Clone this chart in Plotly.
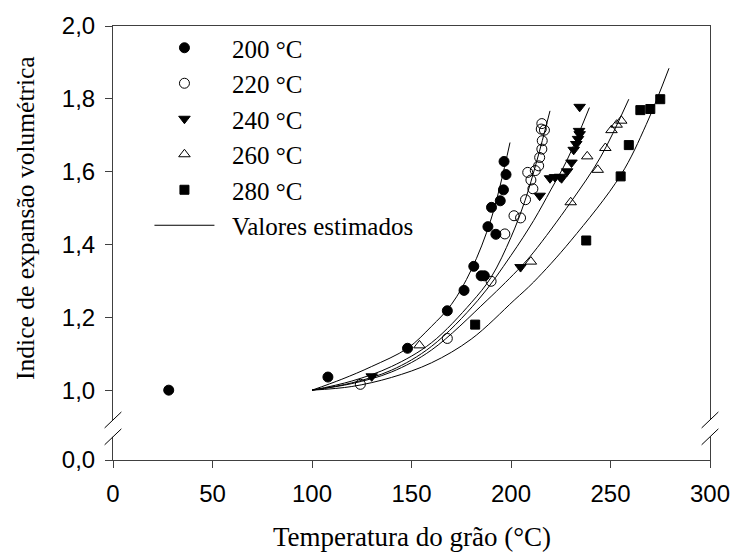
import plotly.graph_objects as go

t200 = [28, 108, 148, 168, 176.4, 181.3, 185, 186.6, 188.4, 190.2, 192.4, 194.6, 196.2, 197.5, 196.5]
i200 = [1.0, 1.036, 1.115, 1.218, 1.274, 1.340, 1.314, 1.314, 1.449, 1.502, 1.428, 1.520, 1.550, 1.592, 1.628]

t220 = [124.3, 168, 190, 196.9, 201.5, 204.8, 207.3, 208.4, 210, 211, 212.2, 213.9, 214.4, 215.5, 215.7, 215.2, 216.8, 215.5]
i220 = [1.016, 1.142, 1.299, 1.429, 1.479, 1.473, 1.523, 1.598, 1.577, 1.553, 1.603, 1.616, 1.639, 1.662, 1.685, 1.717, 1.714, 1.732]

t240 = [130, 204.8, 214.4, 219.6, 222.1, 224.6, 225.4, 228.2, 230.4, 231.5, 232.8, 233.7, 234.5, 234.2, 234.5]
i240 = [1.038, 1.338, 1.534, 1.582, 1.585, 1.586, 1.582, 1.601, 1.625, 1.660, 1.676, 1.690, 1.703, 1.712, 1.778]

t260 = [154, 210, 230, 238.3, 243.6, 247.4, 250.5, 253.1, 255.4]
i260 = [1.123, 1.353, 1.516, 1.642, 1.605, 1.665, 1.714, 1.729, 1.740]

t280 = [182, 237.8, 255.1, 259.2, 265, 270, 275]
i280 = [1.18, 1.411, 1.587, 1.673, 1.769, 1.772, 1.799]

# ---- estimated curves ----
c200_t = [100, 115, 130, 148, 160, 170, 180, 190, 199.5]
c200_i = [1.0, 1.03, 1.065, 1.115, 1.175, 1.235, 1.33, 1.47, 1.68]
c220_t = [100, 120, 140, 160, 180, 190, 200, 207, 213, 219.6]
c220_i = [1.0, 1.025, 1.065, 1.13, 1.24, 1.31, 1.42, 1.52, 1.63, 1.767]
c240_t = [100, 120, 140, 160, 183.4, 200, 211.4, 220, 228, 239.4]
c240_i = [1.0, 1.02, 1.055, 1.12, 1.247, 1.37, 1.466, 1.55, 1.63, 1.776]
c260_t = [100, 120, 140, 160, 188, 204.8, 211.4, 230, 245, 259.2]
c260_i = [1.0, 1.018, 1.05, 1.11, 1.247, 1.338, 1.379, 1.516, 1.64, 1.799]
c280_t = [100, 120, 140, 160, 180, 201.6, 211.4, 230, 255.1, 268, 279.4]
c280_i = [1.0, 1.01, 1.035, 1.075, 1.14, 1.247, 1.297, 1.41, 1.59, 1.73, 1.884]

series_names = ["200 °C", "220 °C", "240 °C", "260 °C", "280 °C"]
curve_name = "Valores estimados"

x_ticks = [0, 50, 100, 150, 200, 250, 300]
y_break_pos = 0.8082  # position on the axis where the "0,0" label sits (broken axis)
y_ticks = [y_break_pos, 1.0, 1.2, 1.4, 1.6, 1.8, 2.0]
y_ticktext = ["0,0", "1,0", "1,2", "1,4", "1,6", "1,8", "2,0"]

SERIF = "Liberation Serif, Times New Roman, serif"
SANS = "Liberation Sans, Arial, sans-serif"
PAD = "\u00a0\u00a0"  # small gap between legend symbol and text

fig = go.Figure()

obs = [(t200, i200, "circle", 10), (t220, i220, "circle-open", 10), (t240, i240, "triangle-down", 10),
       (t260, i260, "triangle-up-open", 10), (t280, i280, "square", 9)]
for (tx, iy, sym, sz), nm in zip(obs, series_names):
    fig.add_trace(go.Scatter(
        x=tx, y=iy, mode="markers", name=PAD + nm, legendgroup=nm,
        marker=dict(symbol=sym, size=sz, color="black",
                    line=dict(color="black", width=1)),
    ))

curves = [(c200_t, c200_i), (c220_t, c220_i), (c240_t, c240_i), (c260_t, c260_i), (c280_t, c280_i)]
for k, (ct, ci) in enumerate(curves):
    fig.add_trace(go.Scatter(
        x=ct, y=ci, mode="lines", name=PAD + curve_name, legendgroup="est",
        showlegend=(k == 0), line=dict(color="black", width=1, shape="spline", smoothing=1.0),
    ))

# plot geometry
W, H = 742, 556
ml, mr, mt, mb = 113, 23, 25, 96
pw, ph = W - ml - mr, H - mt - mb
y0, y1 = y_break_pos, 2.0


def ypaper(v):
    return (v - y0) / (y1 - y0)


# axis-break marks on left and right axes
shapes = []
brk_lo, brk_hi = 0.865, 0.925
for xp in (0.0, 1.0):
    dx = 8.5 / pw
    dy = 8.0 / ph
    yc1 = ypaper(brk_hi) - 2.5 / ph
    yc2 = ypaper(brk_lo) + 2.5 / ph
    shapes.append(dict(type="line", xref="paper", yref="paper", x0=xp, x1=xp,
                       y0=yc2, y1=yc1, line=dict(color="white", width=3), layer="above"))
    for yc in (yc1, yc2):
        shapes.append(dict(type="line", xref="paper", yref="paper",
                           x0=xp - dx, y0=yc - dy, x1=xp + dx, y1=yc + dy,
                           line=dict(color="black", width=1), layer="above"))

annotations = [
    dict(text="Temperatura do grão (°C)", xref="paper", yref="paper",
         x=0.5, y=-(537 - (H - mb)) / ph, xanchor="center", yanchor="middle", showarrow=False,
         font=dict(family=SERIF, size=27, color="black")),
    dict(text="Indice de expansão volumétrica", xref="paper", yref="paper",
         x=-(ml - 24) / pw, y=(H - mb - 217) / ph, xanchor="center", yanchor="middle",
         showarrow=False, textangle=-90,
         font=dict(family=SERIF, size=25.5, color="black")),
]

fig.update_layout(
    width=W, height=H,
    margin=dict(l=ml, r=mr, t=mt, b=mb),
    paper_bgcolor="white", plot_bgcolor="white",
    showlegend=True,
    legend=dict(x=(150 - ml) / pw, y=(H - mb - 24) / ph, xanchor="left", yanchor="top",
                font=dict(family=SERIF, size=25, color="black"), bgcolor="rgba(0,0,0,0)",
                tracegroupgap=0, itemwidth=60),
    shapes=shapes,
    annotations=annotations,
    xaxis=dict(range=[0, 300], tickvals=x_ticks, ticks="outside", ticklen=7, tickcolor="#404040",
               showline=True, linecolor="#404040", linewidth=1, mirror=True,
               showgrid=False, zeroline=False, ticklabelstandoff=5,
               tickfont=dict(family=SANS, size=24, color="black")),
    yaxis=dict(range=[y0, y1], tickvals=y_ticks, ticktext=y_ticktext, ticks="outside", ticklen=7,
               tickcolor="#404040", showline=True, linecolor="#404040", linewidth=1, mirror=True,
               showgrid=False, zeroline=False, ticklabelstandoff=5,
               tickfont=dict(family=SANS, size=24, color="black")),
)

fig.write_html("out.html")
